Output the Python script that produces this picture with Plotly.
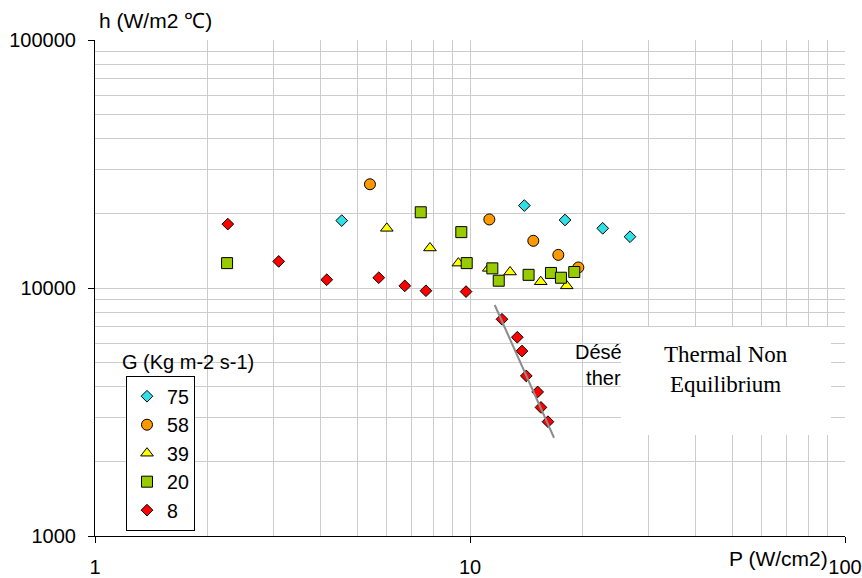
import plotly.graph_objects as go

# ---- data ----
g75_x = [4.55, 13.96, 17.92, 22.59, 26.71]
g75_y = [18700, 21500, 18800, 17400, 16100]

g58_x = [5.41, 11.26, 14.75, 17.20, 19.45]
g58_y = [26200, 18900, 15500, 13600, 12100]

g39_x = [6.00, 7.82, 9.31, 11.22, 12.79, 15.44, 18.11]
g39_y = [17400, 14500, 12600, 12000, 11600, 10600, 10200]

g20_x = [2.25, 7.39, 9.48, 9.80, 11.47, 11.93, 14.33, 16.44, 17.48, 18.97]
g20_y = [12600, 20200, 16800, 12600, 12000, 10700, 11300, 11500, 11000, 11600]

g8_x = [2.26, 3.09, 4.15, 5.71, 6.70, 7.63, 9.76, 12.17, 13.37, 13.76, 14.13, 15.15, 15.46, 16.14]
g8_y = [18100, 12800, 10800, 11000, 10200, 9750, 9670, 7480, 6330, 5570, 4420, 3810, 3300, 2890]

trend_x = [11.64, 16.75]
trend_y = [8540, 2490]

series_names = ["75", "58", "39", "20", "8"]

x_tickvals = [1, 10, 100]
x_ticktext = ["1", "10", "100"]
y_tickvals = [1000, 10000, 100000]
y_ticktext = ["1000", "10000", "100000"]

FONT = "Liberation Sans, Arial, sans-serif"

fig = go.Figure()

styles = [
    (g75_x, g75_y, "diamond", "#2FE0E6", 9),
    (g58_x, g58_y, "circle", "#FF9900", 11),
    (g39_x, g39_y, "triangle-up", "#FFFF00", 11),
    (g20_x, g20_y, "square", "#99CC00", 11),
    (g8_x, g8_y, "diamond", "#FF0000", 9),
]
for (xs, ys, sym, col, sz), name in zip(styles, series_names):
    fig.add_trace(go.Scatter(
        x=xs, y=ys, mode="markers", name=name,
        marker=dict(symbol=sym, color=col, size=sz,
                    line=dict(color="black", width=1)),
    ))

fig.add_trace(go.Scatter(
    x=trend_x, y=trend_y, mode="lines", showlegend=False,
    line=dict(color="#8C8C8C", width=2), hoverinfo="skip",
))

L, R, T, B = 95, 17, 40, 42
W, H = 862, 578
pw, ph = W - L - R, H - T - B


def px(xp):
    return (xp - L) / pw


def py(yp):
    return (H - B - yp) / ph


grid = "#CCCCCC"
axis_common = dict(
    type="log", showline=True, linecolor="black", linewidth=1,
    ticks="outside", ticklen=6, tickcolor="black",
    showgrid=True, gridcolor=grid, gridwidth=1,
    minor=dict(dtick="D1", showgrid=True, gridcolor=grid, gridwidth=1, ticks=""),
    tickfont=dict(family=FONT, size=20, color="black"),
    zeroline=False, mirror=False, automargin=False,
)

fig.update_xaxes(range=[0, 2], tickmode="array", tickvals=x_tickvals,
                 ticktext=x_ticktext, ticklabelstandoff=7, **axis_common)
fig.update_yaxes(range=[3, 5], tickmode="array", tickvals=y_tickvals,
                 ticktext=y_ticktext, ticklabelstandoff=8, **axis_common)

annotations = [
    dict(text="h (W/m2 ℃)", x=px(97), y=py(21), xanchor="left", yanchor="middle",
         font=dict(family=FONT, size=21, color="black")),
    dict(text="P (W/cm2)", x=px(778), y=py(558), xanchor="center", yanchor="middle",
         font=dict(family=FONT, size=21, color="black")),
    dict(text="G (Kg m-2 s-1)", x=px(188), y=py(362), xanchor="center", yanchor="middle",
         font=dict(family=FONT, size=20, color="black")),
    dict(text="Déséquilibre<br>thermique", x=px(630), y=py(365), xanchor="center",
         yanchor="middle", align="center",
         font=dict(family=FONT, size=20, color="black")),
    dict(text=" ", x=px(621), y=py(327), xanchor="left", yanchor="top",
         width=210, height=108, bgcolor="white", borderpad=0, borderwidth=0,
         font=dict(family=FONT, size=10, color="white")),
    dict(text="Thermal Non<br>Equilibrium", x=px(726), y=py(369), xanchor="center",
         yanchor="middle", align="center",
         font=dict(family="Liberation Serif, Times New Roman, serif", size=23, color="black")),
]
for a in annotations:
    a.update(xref="paper", yref="paper", showarrow=False)

fig.update_layout(
    width=W, height=H,
    margin=dict(l=L, r=R, t=T, b=B, pad=0, autoexpand=False),
    paper_bgcolor="white", plot_bgcolor="white",
    annotations=annotations,
    showlegend=True,
    legend=dict(
        x=px(126), y=py(376), xanchor="left", yanchor="top",
        bgcolor="white", bordercolor="black", borderwidth=1,
        font=dict(family=FONT, size=19.6, color="black"),
        itemwidth=30, tracegroupgap=0,
    ),
    font=dict(family=FONT, color="black"),
)

fig.write_html("out.html", config={"displayModeBar": False},
               post_script="document.body.style.margin='0';document.body.style.padding='0';")
